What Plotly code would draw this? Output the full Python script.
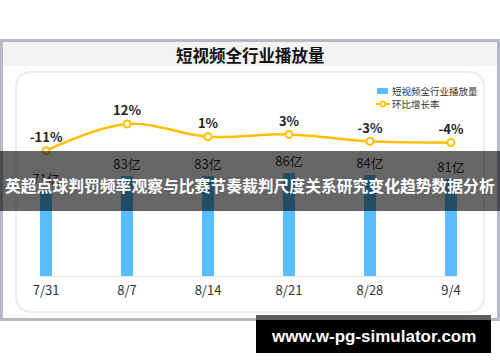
import plotly.graph_objects as go

# ---- data ----
categories = ["7/31", "8/7", "8/14", "8/21", "8/28", "9/4"]
play_volume = [71, 83, 83, 86, 84, 81]          # 亿
growth_rate = [-11, 12, 1, 3, -3, -4]            # %
bar_labels = [f"{v}亿" for v in play_volume]
rate_labels = [f"{v}%" for v in growth_rate]

title_text = "短视频全行业播放量"
legend_bar = "短视频全行业播放量"
legend_line = "环比增长率"
banner_text = "英超点球判罚频率观察与比赛节奏裁判尺度关系研究变化趋势数据分析"
url_text = "www.w-pg-simulator.com"

# ---- geometry helpers (pixel -> paper) ----
W, H = 500, 362
L, R, T, B = 40, 457, 80, 276
def fx(px):
    return (px - L) / (R - L)
def fy(py):
    return (B - py) / (B - T)

CJK = "Noto Sans CJK SC"
BLUE = "#58BEFF"
GOLD = "#FFBF00"

fig = go.Figure()
fig.add_trace(go.Bar(
    x=categories, y=play_volume, width=0.148,
    marker=dict(color=BLUE, line=dict(width=0)),
    text=bar_labels, textposition="outside", constraintext="none",
    textfont=dict(family=CJK, size=13, color="#333333"),
    cliponaxis=False, showlegend=False, yaxis="y",
))
fig.add_trace(go.Scatter(
    x=categories, y=growth_rate, yaxis="y2",
    mode="lines+markers+text", line=dict(color=GOLD, width=2.5, shape="spline"),
    marker=dict(symbol="circle", size=7, color="white", line=dict(color=GOLD, width=2)),
    text=rate_labels, textposition="top center",
    textfont=dict(family=CJK, size=13, color="#222222", weight="bold"),
    cliponaxis=False, showlegend=False,
))

shapes = []
# outer frame
shapes.append(dict(type="rect", xref="paper", yref="paper",
                   x0=fx(1.5), x1=fx(498.5), y0=fy(40.5), y1=fy(319.5),
                   line=dict(color="#B6B8C6", width=3), fillcolor="white", layer="below"))
# title band
shapes.append(dict(type="rect", xref="paper", yref="paper",
                   x0=fx(3), x1=fx(497), y0=fy(42), y1=fy(66),
                   line=dict(width=0), fillcolor="#F3F3F3", layer="below"))
# inner rounded panel
x0, x1, y0, y1, r = 16, 484, 72, 312, 16
pts = [
    ("M", x0 + r, y0), ("L", x1 - r, y0), ("Q", x1, y0, x1, y0 + r),
    ("L", x1, y1 - r), ("Q", x1, y1, x1 - r, y1), ("L", x0 + r, y1),
    ("Q", x0, y1, x0, y1 - r), ("L", x0, y0 + r), ("Q", x0, y0, x0 + r, y0),
]
path = ""
for p in pts:
    cmd = p[0]
    coords = p[1:]
    parts = []
    for i in range(0, len(coords), 2):
        parts.append(f"{fx(coords[i]):.5f},{fy(coords[i+1]):.5f}")
    path += cmd + " " + " ".join(parts) + " "
path += "Z"
shapes.append(dict(type="path", xref="paper", yref="paper", path=path,
                   line=dict(color="#EDEDED", width=2), fillcolor="white", layer="below"))
# legend symbols
shapes.append(dict(type="rect", xref="paper", yref="paper",
                   x0=fx(377), x1=fx(388), y0=fy(88), y1=fy(94),
                   line=dict(width=0), fillcolor=BLUE, layer="above"))
shapes.append(dict(type="line", xref="paper", yref="paper",
                   x0=fx(376), x1=fx(390), y0=fy(104), y1=fy(104),
                   line=dict(color=GOLD, width=2), layer="above"))
shapes.append(dict(type="circle", xref="paper", yref="paper",
                   x0=fx(380.5), x1=fx(385.5), y0=fy(101.5), y1=fy(106.5),
                   line=dict(color=GOLD, width=1.5), fillcolor="white", layer="above"))
# banner
shapes.append(dict(type="rect", xref="paper", yref="paper",
                   x0=fx(0), x1=fx(500), y0=fy(151), y1=fy(211),
                   line=dict(width=0), fillcolor="rgba(0,0,0,0.6)", layer="above"))
# url box
shapes.append(dict(type="rect", xref="paper", yref="paper",
                   x0=fx(256), x1=fx(491), y0=fy(315), y1=fy(320),
                   line=dict(width=0), fillcolor="#5E5E5E", layer="above"))
shapes.append(dict(type="rect", xref="paper", yref="paper",
                   x0=fx(256), x1=fx(491), y0=fy(320), y1=fy(353),
                   line=dict(width=0), fillcolor="#000000", layer="above"))

annotations = [
    dict(text=title_text, xref="paper", yref="paper", x=fx(250), y=fy(55),
         showarrow=False, xanchor="center", yanchor="middle",
         font=dict(family=CJK, size=16.5, color="#111111", weight="bold")),
    dict(text=legend_bar, xref="paper", yref="paper", x=fx(390), y=fy(91),
         showarrow=False, xanchor="left", yanchor="middle",
         font=dict(family=CJK, size=9.5, color="#333333")),
    dict(text=legend_line, xref="paper", yref="paper", x=fx(390), y=fy(104),
         showarrow=False, xanchor="left", yanchor="middle",
         font=dict(family=CJK, size=9.5, color="#333333")),
    dict(text=banner_text, xref="paper", yref="paper", x=fx(250), y=fy(185),
         showarrow=False, xanchor="center", yanchor="middle",
         font=dict(family=CJK, size=15.8, color="white", weight="bold")),
    dict(text=url_text, xref="paper", yref="paper", x=fx(373), y=fy(336.5),
         showarrow=False, xanchor="center", yanchor="middle",
         font=dict(family="Liberation Sans", size=17, color="white", weight="bold")),
]

fig.update_layout(
    width=W, height=H,
    margin=dict(l=L, r=W - R, t=T, b=H - B, pad=0),
    paper_bgcolor="white", plot_bgcolor="rgba(0,0,0,0)",
    showlegend=False, bargap=0,
    xaxis=dict(type="category", range=[-0.075, 5.075], showline=True,
               linecolor="#E3E3E3", linewidth=1, showgrid=False, zeroline=False,
               ticks="", tickfont=dict(family=CJK, size=13, color="#333333"),
               ticklabelstandoff=2),
    yaxis=dict(range=[0, 163.3], visible=False, showgrid=False, zeroline=False),
    yaxis2=dict(range=[-119.05, 49.9], overlaying="y", visible=False,
                showgrid=False, zeroline=False),
    shapes=shapes, annotations=annotations,
)

fig.write_html(
    "out.html",
    config={"displayModeBar": False},
    post_script="document.body.style.margin='0';document.body.style.overflow='hidden';",
)
